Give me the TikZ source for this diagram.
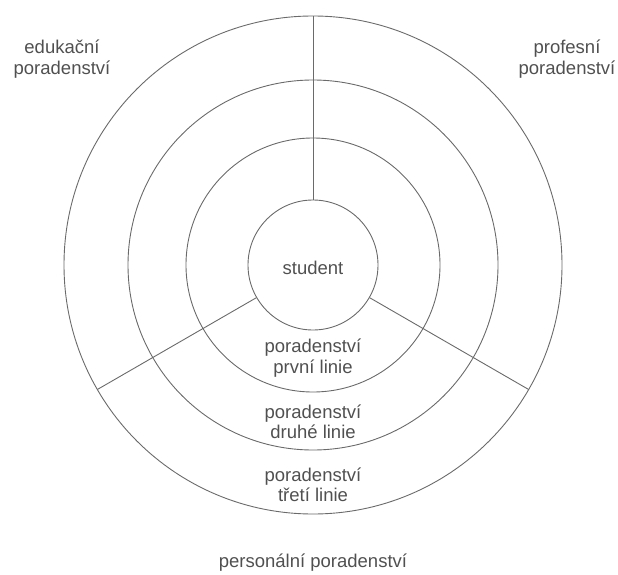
\documentclass[tikz,border=0pt]{standalone}
\usepackage{fontspec}
\setmainfont{Liberation Sans}
\definecolor{linegray}{HTML}{6A6A6A}
\definecolor{txtgray}{HTML}{505050}
\begin{document}
\begin{tikzpicture}[x=1pt,y=-1pt,
  ring/.style={draw=linegray, line width=0.9pt},
  spoke/.style={draw=linegray, line width=0.9pt},
  lbl/.style={text=txtgray, font=\fontsize{18.5}{20.5}\selectfont, align=center, inner sep=0pt}]
\useasboundingbox (0,0) rectangle (618,575);
\coordinate (c) at (313,265);
% rings
\draw[ring] (c) circle[radius=249pt];
\draw[ring] (c) circle[radius=185pt];
\draw[ring] (c) circle[radius=127pt];
\node[circle, ring, minimum size=130pt, inner sep=0pt] (student) at (c) {};
% spoke ends on outer ring
\coordinate (otop) at ([shift={(90:249pt)}]c);
\coordinate (oleft) at ([shift={(210:249pt)}]c);
\coordinate (oright) at ([shift={(330:249pt)}]c);
\draw[spoke] (student.90) -- (otop);
\draw[spoke] (student.210) -- (oleft);
\draw[spoke] (student.330) -- (oright);
% labels
\node[lbl] (lstudent) at (313,268) {student};
\node[lbl] (lprvni) at (313,358) {poradenství\\první linie};
\node[lbl] (ldruhe) at (313,422) {poradenství\\druhé linie};
\node[lbl] (ltreti) at (313,485) {poradenství\\třetí linie};
\node[lbl] (ledu) at (62,59) {edukační\\poradenství};
\node[lbl] (lprof) at (567,59) {profesní\\poradenství};
\node[lbl] (lpers) at (313,563) {personální poradenství};
\end{tikzpicture}
\end{document}
